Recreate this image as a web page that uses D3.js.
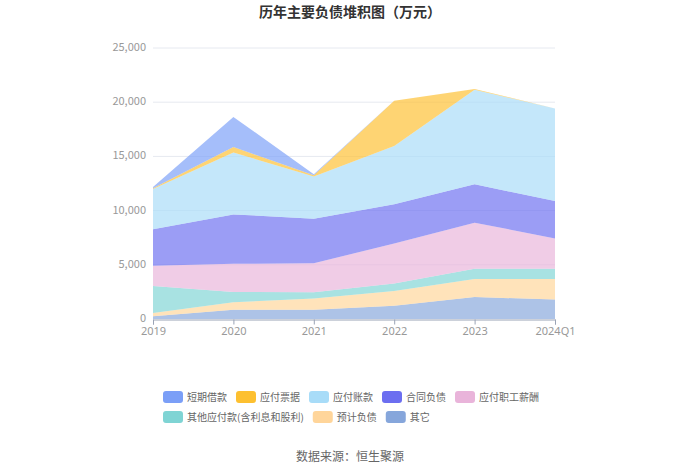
<!DOCTYPE html>
<meta charset="utf-8">
<style>
    body { margin: 0; background: #fff; }
    svg text { font-family: "Noto Sans CJK SC", "Noto Sans", sans-serif; }
</style>
<script src="https://d3js.org/d3.v7.min.js"></script>
<div id="chart"></div>
<script>
    // categories
    var years = ["2019", "2020", "2021", "2022", "2023", "2024Q1"];

    // series values (万元)
    var shortLoan   = [100, 2775, 90, 0, 0, 0];            // 短期借款
    var notesPay    = [80, 520, 120, 4160, 60, 0];         // 应付票据
    var accountsPay = [3700, 5700, 3890, 5390, 8720, 8550]; // 应付账款
    var contractLia = [3370, 4560, 4110, 3610, 3540, 3450]; // 合同负债
    var staffPay    = [1880, 2590, 2680, 3700, 4260, 2800]; // 应付职工薪酬
    var otherPay    = [2480, 960, 560, 680, 930, 930];      // 其他应付款(含利息和股利)
    var provisions  = [300, 680, 1040, 1360, 1670, 1910];   // 预计负债
    var others      = [260, 860, 860, 1230, 2030, 1790];    // 其它

    var yTicks = [0, 5000, 10000, 15000, 20000, 25000];

    // legend order (top of stack first)
    var series = [
        {name: "短期借款", values: shortLoan, color: "#7b9ff7"},
        {name: "应付票据", values: notesPay, color: "#fdc030"},
        {name: "应付账款", values: accountsPay, color: "#a8dcf8"},
        {name: "合同负债", values: contractLia, color: "#6c6ef0"},
        {name: "应付职工薪酬", values: staffPay, color: "#e9b4da"},
        {name: "其他应付款(含利息和股利)", values: otherPay, color: "#7fd4d4"},
        {name: "预计负债", values: provisions, color: "#ffd59a"},
        {name: "其它", values: others, color: "#86a6db"}
    ];

    var W = 700, H = 473;
    var svg = d3.select("#chart").append("svg")
        .attr("width", W)
        .attr("height", H);

    // title
    svg.append("text")
        .attr("x", 350).attr("y", 17)
        .attr("text-anchor", "middle")
        .style("font-size", "14px")
        .style("font-weight", "bold")
        .style("fill", "#333")
        .text("历年主要负债堆积图（万元）");

    var x = d3.scalePoint().domain(years).range([153, 555]);
    var y = d3.scaleLinear().domain([0, 25000]).range([319, 48]);

    // build table for the stack, bottom series is the last in legend
    var table = years.map(function (yr, i) {
        var row = {year: yr};
        series.forEach(function (s) { row[s.name] = s.values[i]; });
        return row;
    });
    var stackKeys = series.map(function (s) { return s.name; }).reverse();
    var stacked = d3.stack().keys(stackKeys)(table);
    var colorOf = {};
    series.forEach(function (s) { colorOf[s.name] = s.color; });

    // grid lines
    svg.append("g").selectAll("line")
        .data(yTicks.slice(1))
        .enter().append("line")
        .attr("x1", 153).attr("x2", 555)
        .attr("y1", function (d) { return y(d); })
        .attr("y2", function (d) { return y(d); })
        .attr("stroke", "#e6e9f0")
        .attr("stroke-width", 1);

    // stacked areas
    var area = d3.area()
        .x(function (d) { return x(d.data.year); })
        .y0(function (d) { return y(d[0]); })
        .y1(function (d) { return y(d[1]); });

    svg.append("g").selectAll("path")
        .data(stacked)
        .enter().append("path")
        .attr("d", area)
        .attr("fill", function (d) { return colorOf[d.key]; })
        .attr("fill-opacity", 0.68);

    // y axis labels
    svg.append("g").selectAll("text")
        .data(yTicks)
        .enter().append("text")
        .attr("x", 146)
        .attr("y", function (d) { return y(d) + 3; })
        .attr("text-anchor", "end")
        .style("font-size", "11px")
        .style("fill", "#999")
        .text(function (d) { return d3.format(",")(d); });

    // x axis
    var xAxis = svg.append("g")
        .attr("transform", "translate(0,319.5)")
        .call(d3.axisBottom(x).tickSize(5).tickPadding(3));
    xAxis.select(".domain").attr("stroke", "#9aa3b5");
    xAxis.selectAll(".tick line").attr("stroke", "#9aa3b5");
    xAxis.selectAll(".tick text")
        .style("font-size", "11px")
        .style("fill", "#999")
        .style("font-family", "'Noto Sans', sans-serif");

    // legend: rows left-aligned
    var legendRows = [series.slice(0, 5), series.slice(5)];
    legendRows.forEach(function (row, r) {
        var lx = 163;
        var ly = 397 + r * 20;
        row.forEach(function (s) {
            svg.append("rect")
                .attr("x", lx).attr("y", ly - 6)
                .attr("width", 20).attr("height", 12)
                .attr("rx", 3)
                .attr("fill", s.color);
            var t = svg.append("text")
                .attr("x", lx + 24).attr("y", ly + 3.5)
                .style("font-size", "10px")
                .style("fill", "#666")
                .text(s.name);
            lx += 24 + t.node().getComputedTextLength() + 9;
        });
    });

    // source
    svg.append("text")
        .attr("x", 350).attr("y", 461)
        .attr("text-anchor", "middle")
        .style("font-size", "12px")
        .style("fill", "#666")
        .text("数据来源：恒生聚源");
</script>
